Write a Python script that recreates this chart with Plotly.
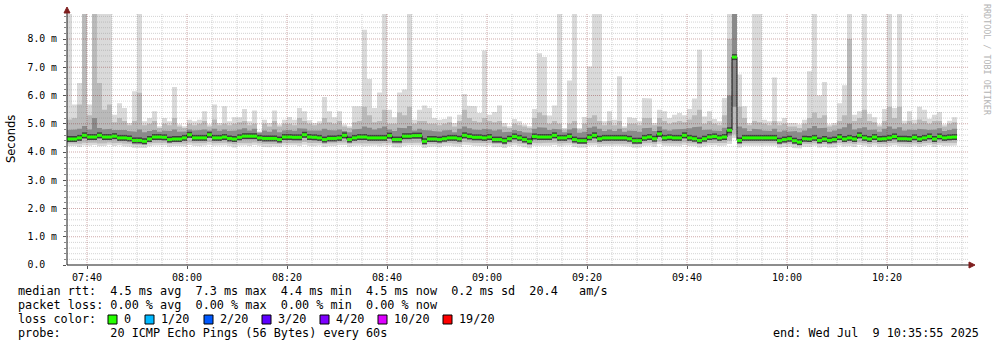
import plotly.graph_objects as go
import pandas as pd

# ---------------- data (one value per 60 s probe round, 07:36 .. 10:34) ----------------
median = [
    4.46, 4.46, 4.50, 4.59, 4.53, 4.53, 4.59, 4.53, 4.53, 4.56,
    4.50, 4.50, 4.48, 4.41, 4.41, 4.38, 4.46, 4.53, 4.53, 4.52,
    4.44, 4.46, 4.46, 4.50, 4.61, 4.50, 4.50, 4.50, 4.61, 4.50,
    4.50, 4.53, 4.48, 4.46, 4.52, 4.56, 4.56, 4.56, 4.50, 4.48,
    4.48, 4.48, 4.44, 4.53, 4.53, 4.52, 4.52, 4.61, 4.53, 4.52,
    4.50, 4.44, 4.48, 4.48, 4.50, 4.59, 4.44, 4.50, 4.53, 4.53,
    4.50, 4.50, 4.50, 4.50, 4.58, 4.44, 4.44, 4.56, 4.56, 4.58,
    4.58, 4.38, 4.46, 4.46, 4.44, 4.47, 4.50, 4.50, 4.47, 4.59,
    4.55, 4.52, 4.52, 4.50, 4.53, 4.44, 4.44, 4.40, 4.47, 4.55,
    4.50, 4.44, 4.38, 4.55, 4.53, 4.53, 4.53, 4.59, 4.50, 4.50,
    4.55, 4.44, 4.40, 4.40, 4.52, 4.59, 4.47, 4.50, 4.50, 4.50,
    4.50, 4.50, 4.47, 4.40, 4.40, 4.50, 4.53, 4.47, 4.64, 4.50,
    4.52, 4.50, 4.50, 4.59, 4.50, 4.47, 4.41, 4.47, 4.53, 4.55,
    4.50, 4.53, 4.77, 7.36, 4.41, 4.50, 4.50, 4.50, 4.50, 4.50,
    4.50, 4.50, 4.40, 4.44, 4.47, 4.40, 4.35, 4.47, 4.46, 4.50,
    4.41, 4.46, 4.41, 4.44, 4.53, 4.46, 4.50, 4.46, 4.59, 4.50,
    4.46, 4.53, 4.46, 4.47, 4.50, 4.55, 4.47, 4.47, 4.46, 4.52,
    4.46, 4.50, 4.55, 4.46, 4.55, 4.50, 4.52, 4.53,
]

rtt_min = [
    4.20, 4.22, 4.18, 4.24, 4.22, 4.25, 4.20, 4.22, 4.26, 4.21,
    4.24, 4.20, 4.19, 4.15, 4.16, 4.14, 4.20, 4.23, 4.22, 4.24,
    4.19, 4.21, 4.22, 4.20, 4.25, 4.22, 4.20, 4.23, 4.26, 4.22,
    4.22, 4.24, 4.20, 4.16, 4.22, 4.24, 4.21, 4.25, 4.22, 4.18,
    4.17, 4.20, 4.18, 4.23, 4.22, 4.24, 4.21, 4.26, 4.22, 4.20,
    4.23, 4.18, 4.20, 4.21, 4.24, 4.25, 4.19, 4.21, 4.23, 4.20,
    4.21, 4.23, 4.20, 4.22, 4.24, 4.17, 4.16, 4.22, 4.24, 4.25,
    4.23, 4.14, 4.18, 4.20, 4.17, 4.21, 4.22, 4.20, 4.19, 4.26,
    4.24, 4.22, 4.21, 4.20, 4.23, 4.17, 4.18, 4.14, 4.20, 4.24,
    4.20, 4.17, 4.13, 4.22, 4.21, 4.23, 4.22, 4.25, 4.20, 4.22,
    4.24, 4.18, 4.15, 4.16, 4.22, 4.24, 4.19, 4.21, 4.22, 4.20,
    4.22, 4.21, 4.19, 4.15, 4.16, 4.21, 4.23, 4.19, 4.27, 4.22,
    4.22, 4.21, 4.20, 4.25, 4.21, 4.20, 4.16, 4.20, 4.23, 4.24,
    4.21, 4.23, 4.28, 4.50, 4.16, 4.22, 4.20, 4.21, 4.22, 4.20,
    4.21, 4.22, 4.15, 4.17, 4.19, 4.14, 4.12, 4.19, 4.18, 4.22,
    4.16, 4.19, 4.15, 4.17, 4.23, 4.19, 4.21, 4.18, 4.25, 4.22,
    4.18, 4.23, 4.18, 4.19, 4.21, 4.24, 4.20, 4.19, 4.18, 4.22,
    4.18, 4.21, 4.24, 4.18, 4.24, 4.21, 4.22, 4.23,
]

rtt_p10 = [
    4.30, 4.31, 4.29, 4.33, 4.31, 4.33, 4.30, 4.31, 4.34, 4.31,
    4.33, 4.30, 4.29, 4.26, 4.27, 4.25, 4.30, 4.32, 4.32, 4.33,
    4.29, 4.30, 4.31, 4.30, 4.34, 4.31, 4.30, 4.32, 4.35, 4.31,
    4.31, 4.33, 4.30, 4.27, 4.32, 4.33, 4.31, 4.34, 4.31, 4.29,
    4.28, 4.30, 4.28, 4.32, 4.31, 4.33, 4.31, 4.35, 4.32, 4.30,
    4.32, 4.28, 4.30, 4.31, 4.33, 4.34, 4.29, 4.31, 4.32, 4.30,
    4.31, 4.32, 4.30, 4.32, 4.33, 4.28, 4.27, 4.32, 4.33, 4.34,
    4.33, 4.25, 4.29, 4.30, 4.28, 4.31, 4.32, 4.30, 4.29, 4.35,
    4.33, 4.32, 4.31, 4.30, 4.32, 4.28, 4.29, 4.25, 4.30, 4.33,
    4.30, 4.28, 4.24, 4.32, 4.31, 4.32, 4.32, 4.34, 4.30, 4.31,
    4.33, 4.28, 4.26, 4.27, 4.32, 4.33, 4.29, 4.31, 4.31, 4.30,
    4.31, 4.31, 4.29, 4.26, 4.27, 4.31, 4.32, 4.29, 4.36, 4.31,
    4.32, 4.31, 4.30, 4.34, 4.31, 4.30, 4.27, 4.30, 4.32, 4.33,
    4.31, 4.32, 4.40, 4.62, 4.27, 4.31, 4.30, 4.31, 4.31, 4.30,
    4.31, 4.31, 4.26, 4.28, 4.29, 4.26, 4.23, 4.29, 4.28, 4.31,
    4.27, 4.29, 4.26, 4.28, 4.32, 4.29, 4.31, 4.28, 4.34, 4.31,
    4.28, 4.32, 4.28, 4.29, 4.31, 4.33, 4.30, 4.29, 4.28, 4.31,
    4.28, 4.31, 4.33, 4.28, 4.33, 4.31, 4.31, 4.32,
]

rtt_p25 = [
    4.38, 4.37, 4.41, 4.48, 4.44, 4.45, 4.49, 4.43, 4.45, 4.46,
    4.41, 4.40, 4.39, 4.33, 4.32, 4.30, 4.37, 4.44, 4.43, 4.44,
    4.35, 4.37, 4.38, 4.41, 4.50, 4.41, 4.40, 4.42, 4.51, 4.41,
    4.41, 4.44, 4.39, 4.36, 4.43, 4.46, 4.47, 4.47, 4.41, 4.38,
    4.38, 4.40, 4.35, 4.44, 4.43, 4.44, 4.42, 4.51, 4.44, 4.43,
    4.41, 4.35, 4.39, 4.40, 4.42, 4.49, 4.35, 4.41, 4.44, 4.43,
    4.41, 4.42, 4.40, 4.41, 4.48, 4.35, 4.34, 4.46, 4.47, 4.49,
    4.48, 4.29, 4.37, 4.38, 4.35, 4.38, 4.41, 4.40, 4.38, 4.49,
    4.46, 4.43, 4.42, 4.41, 4.44, 4.35, 4.35, 4.30, 4.38, 4.46,
    4.41, 4.35, 4.29, 4.45, 4.43, 4.44, 4.44, 4.49, 4.41, 4.41,
    4.46, 4.35, 4.31, 4.31, 4.43, 4.49, 4.38, 4.41, 4.40, 4.41,
    4.41, 4.41, 4.38, 4.31, 4.31, 4.41, 4.44, 4.38, 4.53, 4.41,
    4.43, 4.41, 4.40, 4.49, 4.41, 4.38, 4.32, 4.38, 4.44, 4.46,
    4.41, 4.44, 4.58, 5.60, 4.32, 4.41, 4.40, 4.41, 4.41, 4.40,
    4.41, 4.41, 4.31, 4.35, 4.38, 4.31, 4.27, 4.38, 4.37, 4.41,
    4.32, 4.37, 4.32, 4.35, 4.44, 4.37, 4.41, 4.37, 4.49, 4.41,
    4.37, 4.44, 4.37, 4.38, 4.41, 4.46, 4.38, 4.38, 4.37, 4.43,
    4.37, 4.41, 4.46, 4.37, 4.46, 4.41, 4.43, 4.44,
]

rtt_p75 = [
    4.78, 4.80, 4.82, 4.92, 4.80, 5.20, 4.85, 4.80, 4.82, 4.78,
    4.76, 4.78, 4.74, 4.72, 4.80, 4.70, 4.74, 4.78, 4.72, 4.76,
    4.74, 4.80, 4.72, 4.73, 4.80, 4.76, 4.78, 4.80, 4.76, 4.82,
    4.75, 4.80, 4.74, 4.76, 4.80, 4.84, 4.76, 4.82, 4.68, 4.76,
    4.72, 4.80, 4.70, 4.76, 4.78, 4.75, 4.84, 4.82, 4.76, 4.74,
    4.76, 4.82, 4.78, 4.76, 4.80, 4.74, 4.70, 4.80, 4.82, 4.90,
    4.86, 4.80, 4.84, 4.90, 4.80, 4.74, 4.86, 4.84, 4.92, 4.76,
    4.82, 4.78, 4.76, 4.74, 4.72, 4.76, 4.78, 4.70, 4.82, 4.90,
    4.84, 4.80, 4.78, 4.82, 4.80, 4.76, 4.80, 4.70, 4.72, 4.78,
    4.74, 4.70, 4.68, 4.82, 4.88, 4.86, 4.78, 4.82, 4.80, 4.70,
    4.80, 4.84, 4.68, 4.72, 4.86, 4.90, 4.82, 4.74, 4.80, 4.74,
    4.82, 4.72, 4.76, 4.74, 4.72, 4.84, 4.86, 4.74, 4.90, 4.80,
    4.76, 4.80, 4.82, 4.82, 4.84, 4.88, 4.90, 4.78, 4.80, 4.76,
    4.74, 4.86, 6.00, 9.00, 4.90, 4.84, 4.74, 4.82, 4.80, 4.76,
    4.74, 4.82, 4.72, 4.76, 4.72, 4.74, 4.70, 4.76, 4.84, 4.92,
    4.84, 4.86, 4.72, 4.76, 4.82, 4.88, 5.00, 4.80, 4.84, 4.88,
    4.78, 4.80, 4.72, 4.82, 4.90, 4.82, 4.88, 4.76, 4.80, 4.78,
    4.82, 4.80, 4.78, 4.80, 4.84, 4.74, 4.78, 4.82,
]

rtt_p90 = [
    5.15, 5.20, 5.68, 9.00, 5.30, 9.00, 6.44, 5.50, 5.68, 5.05,
    5.20, 5.10, 4.95, 5.10, 6.10, 4.95, 5.00, 5.10, 4.85, 5.00,
    4.95, 5.20, 4.90, 4.85, 5.00, 4.95, 5.00, 5.10, 4.90, 5.15,
    4.95, 5.00, 4.95, 5.00, 5.05, 5.10, 4.95, 5.00, 4.70, 5.00,
    4.90, 5.10, 4.90, 5.00, 5.00, 4.95, 5.20, 5.10, 5.00, 4.95,
    5.00, 5.20, 5.05, 5.00, 5.10, 4.90, 4.85, 5.05, 5.10, 5.60,
    5.30, 5.05, 5.10, 5.50, 5.00, 5.00, 5.40, 5.30, 5.60, 5.00,
    5.10, 5.10, 5.00, 5.00, 4.95, 5.00, 5.05, 4.90, 5.10, 5.50,
    5.20, 5.10, 5.05, 5.20, 5.10, 5.05, 5.10, 4.90, 4.85, 5.00,
    4.95, 4.90, 4.85, 5.20, 5.40, 5.30, 5.00, 5.10, 5.00, 4.80,
    5.00, 5.10, 4.80, 5.00, 5.20, 5.30, 5.10, 4.95, 5.10, 4.95,
    5.10, 4.85, 5.00, 5.00, 4.95, 5.20, 5.20, 4.95, 5.20, 5.10,
    5.00, 5.05, 5.10, 5.05, 5.15, 5.30, 5.50, 5.00, 5.10, 5.00,
    4.95, 5.30, 8.00, 9.00, 5.60, 5.20, 4.95, 5.10, 5.05, 5.00,
    4.95, 5.10, 4.95, 5.00, 4.90, 4.90, 4.85, 5.00, 5.20, 5.40,
    5.20, 5.30, 4.90, 4.95, 5.10, 5.30, 8.00, 5.10, 5.20, 5.50,
    5.10, 5.05, 4.90, 5.10, 5.60, 5.20, 5.60, 5.00, 5.10, 5.00,
    5.15, 5.10, 5.00, 5.10, 5.10, 4.90, 5.00, 5.05,
]

rtt_max = [
    9.00, 5.68, 6.44, 9.00, 5.68, 9.00, 9.00, 9.00, 9.00, 5.32,
    5.73, 5.56, 5.03, 6.15, 9.00, 5.09, 5.20, 5.44, 4.91, 5.20,
    5.09, 6.30, 4.97, 4.91, 5.14, 5.09, 5.14, 5.44, 4.97, 5.68,
    5.03, 5.62, 5.09, 5.23, 5.23, 5.52, 5.09, 5.47, 4.73, 5.14,
    5.03, 5.47, 4.97, 5.14, 5.24, 5.14, 5.56, 5.44, 5.12, 5.03,
    5.09, 5.95, 5.44, 5.23, 5.44, 4.97, 4.91, 5.62, 5.62, 8.33,
    6.58, 5.56, 6.11, 9.00, 5.50, 5.23, 6.11, 6.21, 9.00, 5.14,
    5.50, 5.65, 5.56, 5.20, 5.14, 5.17, 5.26, 5.03, 5.32, 6.05,
    5.64, 5.62, 5.38, 7.59, 5.32, 5.42, 5.65, 5.03, 4.91, 5.17,
    5.09, 4.97, 4.91, 5.52, 7.50, 7.36, 5.29, 5.65, 9.00, 4.85,
    6.53, 9.00, 4.85, 5.24, 7.03, 9.00, 9.00, 5.09, 5.44, 5.14,
    6.68, 4.91, 5.23, 5.20, 5.09, 5.91, 5.89, 5.03, 5.50, 5.44,
    5.20, 5.32, 5.38, 5.30, 5.52, 5.89, 7.62, 5.26, 5.44, 5.17,
    5.09, 5.91, 9.00, 9.00, 6.74, 5.62, 5.03, 9.00, 9.00, 5.14,
    5.09, 6.64, 5.09, 5.20, 5.03, 5.03, 4.97, 5.14, 6.86, 9.00,
    6.00, 6.48, 4.97, 5.03, 5.73, 6.36, 9.00, 5.32, 5.44, 9.00,
    5.35, 5.23, 4.97, 5.52, 9.00, 5.56, 9.00, 5.11, 5.44, 5.14,
    5.60, 5.50, 5.18, 5.32, 5.42, 4.97, 5.11, 5.23,
]

x_tick_labels = ["07:40", "08:00", "08:20", "08:40", "09:00", "09:20",
                 "09:40", "10:00", "10:20"]
y_tick_values = [0, 1, 2, 3, 4, 5, 6, 7, 8]
y_tick_labels = ["0.0\u00a0\u00a0", "1.0 m", "2.0 m", "3.0 m", "4.0 m",
                 "5.0 m", "6.0 m", "7.0 m", "8.0 m"]

stats_line1 = "median rtt:  4.5 ms avg  7.3 ms max  4.4 ms min  4.5 ms now  0.2 ms sd  20.4   am/s"
stats_line2 = "packet loss: 0.00 % avg  0.00 % max  0.00 % min  0.00 % now"
loss_labels = ["0", "1/20", "2/20", "3/20", "4/20", "10/20", "19/20"]
loss_colors = ["#26ff00", "#00b8ff", "#0059ff", "#5e00ff", "#7e00ff", "#dd00ff", "#ff0000"]
probe_text = "probe:       20 ICMP Echo Pings (56 Bytes) every 60s"
end_text = "end: Wed Jul  9 10:35:55 2025"

# ---------------- geometry helpers ----------------
W, H = 997, 347
L, R, T, B = 67, 29, 14, 82
PW, PH = W - L - R, H - T - B


def px(x):
    return (x - L) / PW


def py(y):
    return (H - B - y) / PH


N = len(median)
start = pd.Timestamp("2025-07-09 07:36:00")
t0 = [start + pd.Timedelta(minutes=i) for i in range(N)]
t1 = [t + pd.Timedelta(minutes=1) for t in t0]
x_end = start + pd.Timedelta(seconds=PW / 5 * 60)
y_top = PH / 28.25

fig = go.Figure()


def band(low, high, color):
    # stepped area between two per-minute series (continuous, no bar gaps)
    xs, ys_hi, ys_lo = [], [], []
    for a, b, l, h in zip(t0, t1, low, high):
        xs += [a, b]
        ys_hi += [h, h]
        ys_lo += [l, l]
    fig.add_trace(go.Scatter(
        x=xs + xs[::-1], y=ys_hi + ys_lo[::-1], mode="lines",
        fill="toself", fillcolor=color, line=dict(width=0, color=color),
        hoverinfo="skip", showlegend=False))


band(rtt_min, rtt_max, "#dadada")
band(rtt_p10, rtt_p90, "#bababa")
band(rtt_p25, rtt_p75, "#8a8a8a")

# dark shadow around the median + black step line + green (0 loss) segments
sx, sy = [], []
for a, b, m in zip(t0, t1, median):
    sx += [a, b, None]
    sy += [m, m, None]
fig.add_trace(go.Scatter(x=sx, y=sy, mode="lines",
                         line=dict(color="#404040", width=6),
                         hoverinfo="skip", showlegend=False))
stx, sty = [], []
for a, b, m in zip(t0, t1, median):
    stx += [a, b]
    sty += [m, m]
fig.add_trace(go.Scatter(x=stx, y=sty, mode="lines",
                         line=dict(color="#111111", width=1),
                         hoverinfo="skip", showlegend=False))
fig.add_trace(go.Scatter(x=sx, y=sy, mode="lines",
                         line=dict(color=loss_colors[0], width=3),
                         hoverinfo="skip", showlegend=False))

shapes = []
# grid drawn on top of the graph with alpha (rrdtool style)
minor_grid = "rgba(140,140,140,0.38)"
major_grid = "rgba(130,30,30,0.38)"
k = 1
while k * 0.2 < y_top:
    yv = round(k * 0.2, 1)
    shapes.append(dict(type="line", xref="paper", yref="y", x0=0, x1=1,
                       y0=yv, y1=yv, layer="above",
                       line=dict(color=major_grid if k % 5 == 0 else minor_grid,
                                 width=1, dash="1px,1px")))
    k += 1
tg = start + pd.Timedelta(minutes=4)
while tg < x_end:
    is_major = tg.minute % 20 == 0
    shapes.append(dict(type="line", xref="x", yref="paper", x0=tg, x1=tg,
                       y0=0, y1=1, layer="above",
                       line=dict(color=major_grid if is_major else minor_grid,
                                 width=1, dash="1px,1px")))
    tg += pd.Timedelta(minutes=5)

# axes with arrows
axis_col = "#1a1a1a"
arrow_col = "#7f1f1f"
shapes.append(dict(type="line", xref="paper", yref="paper", x0=px(67), x1=px(971),
                   y0=py(265), y1=py(265), layer="above",
                   line=dict(color=axis_col, width=1)))
shapes.append(dict(type="line", xref="paper", yref="paper", x0=px(67), x1=px(67),
                   y0=py(265), y1=py(11), layer="above",
                   line=dict(color=axis_col, width=1)))
shapes.append(dict(type="path", xref="paper", yref="paper", layer="above",
                   path=f"M {px(969)} {py(262)} L {px(975)} {py(265)} L {px(969)} {py(268)} Z",
                   fillcolor=arrow_col, line=dict(color=arrow_col, width=1)))
shapes.append(dict(type="path", xref="paper", yref="paper", layer="above",
                   path=f"M {px(64)} {py(13)} L {px(67)} {py(7)} L {px(70)} {py(13)} Z",
                   fillcolor=arrow_col, line=dict(color=arrow_col, width=1)))

mono = "DejaVu Sans Mono"
annotations = []


def text(x, y, s, size=11.8, color="#000000", anchor="left", font=mono, angle=0):
    annotations.append(dict(xref="paper", yref="paper", x=px(x), y=py(y), text=s,
                            showarrow=False, xanchor=anchor, yanchor="middle",
                            textangle=angle,
                            font=dict(family=font, size=size, color=color)))


text(16, 291, stats_line1.replace(" ", "\u00a0"))
text(16, 305, stats_line2.replace(" ", "\u00a0"))
text(16, 319, "loss color:")
box_left = [108, 145, 204, 262, 320, 378, 443]
for bx, lab, col in zip(box_left, loss_labels, loss_colors):
    shapes.append(dict(type="rect", xref="paper", yref="paper",
                       x0=px(bx), x1=px(bx + 9), y0=py(324), y1=py(315),
                       fillcolor=col, line=dict(color="#000000", width=1)))
    text(bx + 14, 319, lab)
text(16, 333, probe_text.replace(" ", "\u00a0"))
text(981, 333, end_text.replace(" ", "\u00a0"), anchor="right")
text(11, 139, "Seconds", size=11.5, font="DejaVu Sans", anchor="center", angle=-90)
text(987, 60, "RRDTOOL / TOBI OETIKER", size=8.4, color="#b4b4b4", anchor="center", angle=90)

fig.update_layout(
    width=W, height=H,
    margin=dict(l=L, r=R, t=T, b=B, pad=0),
    paper_bgcolor="#ffffff", plot_bgcolor="#ffffff",
    showlegend=False,
    shapes=shapes, annotations=annotations,
    xaxis=dict(
        type="date", range=[start, x_end], showgrid=False, zeroline=False,
        showline=False,
        tickmode="array",
        tickvals=[start + pd.Timedelta(minutes=4 + 20 * i) for i in range(len(x_tick_labels))],
        ticktext=x_tick_labels,
        ticks="outside", ticklen=3, tickcolor="#555555", tickwidth=1,
        tickfont=dict(family=mono, size=10, color="#000000"),
        fixedrange=True,
    ),
    yaxis=dict(
        range=[0, y_top], showgrid=False, zeroline=False, showline=False,
        tickmode="array", tickvals=y_tick_values, ticktext=y_tick_labels,
        ticks="outside", ticklen=3, tickcolor="#555555", tickwidth=1,
        ticklabelstandoff=4,
        minor=dict(dtick=0.2, tick0=0, ticks="outside", ticklen=2,
                   tickcolor="#888888", showgrid=False),
        tickfont=dict(family=mono, size=9.8, color="#000000"),
        fixedrange=True,
    ),
)

fig.write_html("out.html")
